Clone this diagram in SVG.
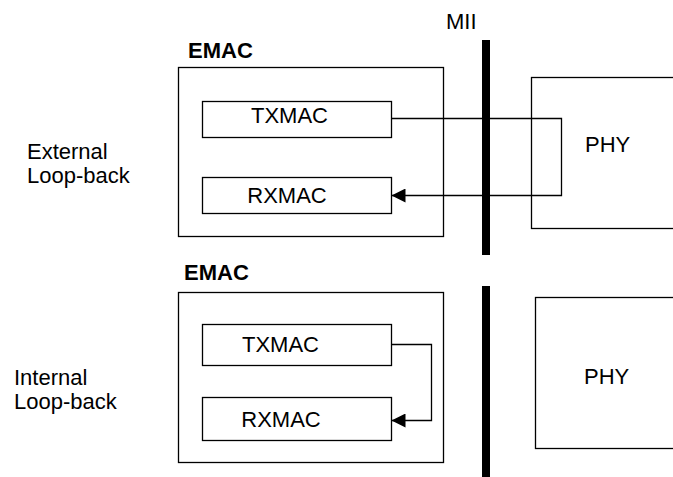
<svg xmlns="http://www.w3.org/2000/svg" width="673" height="477" viewBox="0 0 673 477">
<style>
.box{fill:none;stroke:#000;stroke-width:1.3}
.t{font-family:"Liberation Sans",Arial,sans-serif;font-size:22px;fill:#000}
.c{text-anchor:middle}
.b{font-weight:bold}
.ln{fill:none;stroke:#000;stroke-width:1.3}
.bar{fill:#000}
</style>
<defs>
<marker id="ah" markerWidth="14" markerHeight="14" refX="14" refY="7" orient="auto" markerUnits="userSpaceOnUse">
<path d="M0,0 L14,7 L0,14 Z" fill="#000"/>
</marker>
</defs>
<rect width="673" height="477" fill="#fff"/>
<text class="t" x="446" y="29">MII</text>
<text class="t" x="27" y="159">External</text>
<text class="t" x="27" y="183">Loop-back</text>
<text class="t" x="14" y="385">Internal</text>
<text class="t" x="14" y="409">Loop-back</text>
<g id="mii1"><rect class="bar" x="482" y="40" width="8" height="215"/></g>
<g id="mii2"><rect class="bar" x="482" y="286" width="8" height="191"/></g>
<g id="emac1">
<text class="t b" x="188" y="58">EMAC</text>
<rect class="box" x="178.5" y="67.5" width="265" height="169"/>
</g>
<g id="txmac1">
<rect class="box" x="202.5" y="101.5" width="189" height="36"/>
<text class="t c" x="289.5" y="123">TXMAC</text>
</g>
<g id="rxmac1">
<rect class="box" x="202.5" y="177.5" width="189" height="36"/>
<text class="t c" x="287" y="203">RXMAC</text>
</g>
<g id="phy1">
<rect class="box" x="531.5" y="77.5" width="150" height="151"/>
<text class="t" x="585" y="152">PHY</text>
</g>
<g id="emac2">
<text class="t b" x="184" y="280">EMAC</text>
<rect class="box" x="178.5" y="292.5" width="265" height="170"/>
</g>
<g id="txmac2">
<rect class="box" x="202.5" y="324.5" width="189" height="41"/>
<text class="t c" x="280.5" y="352">TXMAC</text>
</g>
<g id="rxmac2">
<rect class="box" x="202.5" y="397.5" width="189" height="43"/>
<text class="t c" x="281" y="427">RXMAC</text>
</g>
<g id="phy2">
<rect class="box" x="535.5" y="297.5" width="150" height="151"/>
<text class="t" x="584" y="384">PHY</text>
</g>
<g id="connectors">
<path class="ln" d="M391.5,118.5 H561.5 V195.5 H391.5" marker-end="url(#ah)"/>
<path class="ln" d="M391.5,344.5 H431.5 V420.5 H391.5" marker-end="url(#ah)"/>
</g>
</svg>
